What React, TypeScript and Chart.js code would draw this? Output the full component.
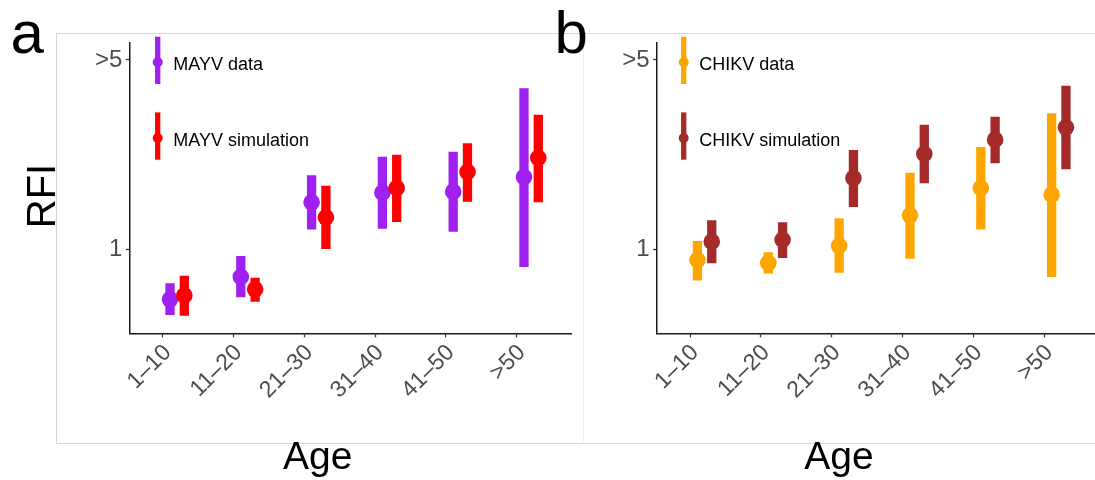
import React, { useEffect, useRef } from "react";
import { Chart, registerables } from "chart.js";

Chart.register(...registerables);

// ---------------- data ----------------
const ageGroups = ["1–10", "11–20", "21–30", "31–40", "41–50", ">50"];

const mayvDataMid = [0.654, 0.792, 1.492, 1.618, 1.632, 1.849];
const mayvDataLow = [0.572, 0.665, 1.185, 1.191, 1.161, 0.86];
const mayvDataHigh = [0.749, 0.945, 1.876, 2.198, 2.293, 3.93];

const mayvSimMid = [0.676, 0.712, 1.313, 1.684, 1.93, 2.174];
const mayvSimLow = [0.569, 0.64, 1.003, 1.261, 1.499, 1.492];
const mayvSimHigh = [0.799, 0.785, 1.718, 2.236, 2.463, 3.141];

const chikvDataMid = [0.913, 0.892, 1.031, 1.335, 1.684, 1.591];
const chikvDataLow = [0.768, 0.815, 0.82, 0.923, 1.185, 0.79];
const chikvDataHigh = [1.073, 0.975, 1.302, 1.918, 2.386, 3.178];

const chikvSimMid = [1.067, 1.085, 1.833, 2.249, 2.539, 2.822];
const chikvSimLow = [0.888, 0.929, 1.433, 1.753, 2.078, 1.974];
const chikvSimHigh = [1.28, 1.258, 2.326, 2.885, 3.088, 4.019];

const yTickValues = [1, 5];
const yTickLabels = ["1", ">5"];

// ---------------- style ----------------
const FONT = "'Liberation Sans', Arial, Helvetica, sans-serif";
const X_MIN = -0.472;
const X_MAX = 5.777;
const Y_MIN = 0.49;
const Y_MAX = 5.79;
const DODGE_DATA = 0.103;
const DODGE_SIM = 0.305;
const BAR_W = 9.3;
const PT_R = 8.3;
const PLOT_TOP = 42.7;
const PLOT_BOTTOM = 333.3;
const CANVAS_H = 480;
const X_AXIS_H = 100;

type Series = {
  label: string;
  color: string;
  mid: number[];
  low: number[];
  high: number[];
  dodge: number;
};

type Panel = {
  canvasLeft: number;
  canvasWidth: number;
  plotLeft: number; // canvas coords
  plotRight: number; // canvas coords
  legendDx: number;
  series: Series[];
};

const panels: Panel[] = [
  {
    canvasLeft: 0,
    canvasWidth: 584,
    plotLeft: 129.3,
    plotRight: 571.7,
    legendDx: 28.4,
    series: [
      { label: "MAYV data", color: "#A020F0", mid: mayvDataMid, low: mayvDataLow, high: mayvDataHigh, dodge: DODGE_DATA },
      { label: "MAYV simulation", color: "#FF0000", mid: mayvSimMid, low: mayvSimLow, high: mayvSimHigh, dodge: DODGE_SIM },
    ],
  },
  {
    canvasLeft: 583,
    canvasWidth: 530,
    plotLeft: 73.7,
    plotRight: 516.4,
    legendDx: 27,
    series: [
      { label: "CHIKV data", color: "#FFA500", mid: chikvDataMid, low: chikvDataLow, high: chikvDataHigh, dodge: DODGE_DATA },
      { label: "CHIKV simulation", color: "#A52A2A", mid: chikvSimMid, low: chikvSimLow, high: chikvSimHigh, dodge: DODGE_SIM },
    ],
  },
];

// legend rows (dot centre y, bar extents relative to dot)
const LEGEND_DOT_Y = [62.3, 138];
const LEGEND_BAR_UP = 25.6;
const LEGEND_BAR_DOWN = 21.7;
const LEGEND_TEXT_DX = 15.6;
const LEGEND_TEXT_DY = 7.7;

function makeLegendPlugin(panel: Panel) {
  return {
    id: "keyLegend",
    afterDraw(chart: any) {
      const ctx = chart.ctx as CanvasRenderingContext2D;
      const kx = chart.chartArea.left + panel.legendDx;
      ctx.save();
      panel.series.forEach((s, i) => {
        const cy = LEGEND_DOT_Y[i];
        ctx.strokeStyle = s.color;
        ctx.lineWidth = 5.3;
        ctx.lineCap = "butt";
        ctx.beginPath();
        ctx.moveTo(kx, cy - LEGEND_BAR_UP);
        ctx.lineTo(kx, cy + LEGEND_BAR_DOWN);
        ctx.stroke();
        ctx.fillStyle = s.color;
        ctx.beginPath();
        ctx.arc(kx, cy, 5, 0, Math.PI * 2);
        ctx.fill();
        ctx.fillStyle = "#000";
        ctx.font = `18px ${FONT}`;
        ctx.textAlign = "left";
        ctx.textBaseline = "alphabetic";
        ctx.fillText(s.label, kx + LEGEND_TEXT_DX, cy + LEGEND_TEXT_DY);
      });
      ctx.restore();
    },
  };
}

function buildConfig(panel: Panel): any {
  const datasets: any[] = [];
  const n = panel.series.length;
  panel.series.forEach((s, si) => {
    const ranges: any[] = [];
    s.low.forEach((lo, i) => {
      const x = i + s.dodge;
      ranges.push({ x, y: lo }, { x, y: s.high[i] }, { x, y: null });
    });
    const pts = s.mid.map((m, i) => ({ x: i + s.dodge, y: m }));
    const base = (n - si) * 2;
    datasets.push({
      label: s.label + " range",
      data: ranges,
      showLine: true,
      spanGaps: false,
      borderColor: s.color,
      borderWidth: BAR_W,
      borderCapStyle: "butt",
      pointRadius: 0,
      pointHoverRadius: 0,
      order: base + 1,
    });
    datasets.push({
      label: s.label,
      data: pts,
      showLine: false,
      backgroundColor: s.color,
      pointBackgroundColor: s.color,
      pointBorderWidth: 0,
      borderWidth: 0,
      pointRadius: PT_R,
      pointHoverRadius: PT_R,
      order: base,
    });
  });

  return {
    type: "scatter",
    data: { datasets },
    options: {
      responsive: false,
      animation: false,
      events: [],
      layout: {
        padding: {
          top: PLOT_TOP,
          left: 0,
          right: panel.canvasWidth - panel.plotRight,
          bottom: CANVAS_H - PLOT_BOTTOM - X_AXIS_H,
        },
      },
      plugins: { legend: { display: false }, tooltip: { enabled: false }, title: { display: false } },
      scales: {
        x: {
          type: "linear",
          min: X_MIN,
          max: X_MAX,
          afterBuildTicks: (sc: any) => {
            sc.ticks = ageGroups.map((_, i) => ({ value: i }));
          },
          afterFit: (sc: any) => {
            sc.height = X_AXIS_H;
          },
          ticks: {
            autoSkip: false,
            minRotation: 45,
            maxRotation: 45,
            padding: 2,
            labelOffset: 5,
            color: "#4D4D4D",
            font: { size: 23, family: FONT },
            callback: (v: number) => ageGroups[Math.round(v)] ?? "",
          },
          grid: {
            display: true,
            drawOnChartArea: false,
            drawTicks: true,
            tickLength: 4,
            tickColor: "#333333",
            tickWidth: 1.3,
          },
          border: { display: true, color: "#1a1a1a", width: 1.5 },
        },
        y: {
          type: "logarithmic",
          min: Y_MIN,
          max: Y_MAX,
          afterBuildTicks: (sc: any) => {
            sc.ticks = yTickValues.map((v) => ({ value: v }));
          },
          afterFit: (sc: any) => {
            sc.width = panel.plotLeft;
          },
          ticks: {
            padding: 3.5,
            color: "#4D4D4D",
            font: { size: 24, family: FONT },
            callback: (v: number) => {
              const idx = yTickValues.indexOf(v);
              return idx >= 0 ? yTickLabels[idx] : "";
            },
          },
          grid: {
            display: true,
            drawOnChartArea: false,
            drawTicks: true,
            tickLength: 3.5,
            tickColor: "#333333",
            tickWidth: 1.3,
          },
          border: { display: true, color: "#1a1a1a", width: 1.5 },
        },
      },
    },
    plugins: [makeLegendPlugin(panel)],
  };
}

function PanelChart({ panel }: { panel: Panel }) {
  const ref = useRef<HTMLCanvasElement | null>(null);
  useEffect(() => {
    if (!ref.current) return;
    const chart = new Chart(ref.current, buildConfig(panel));
    return () => chart.destroy();
  }, [panel]);
  return (
    <canvas
      ref={ref}
      width={panel.canvasWidth}
      height={CANVAS_H}
      style={{
        position: "absolute",
        left: panel.canvasLeft,
        top: 0,
        width: panel.canvasWidth,
        height: CANVAS_H,
      }}
    />
  );
}

const txt = (extra: React.CSSProperties): React.CSSProperties => ({
  position: "absolute",
  fontFamily: FONT,
  color: "#000",
  whiteSpace: "nowrap",
  margin: 0,
  padding: 0,
  ...extra,
});

export default function App() {
  return (
    <div
      style={{
        position: "fixed",
        left: 0,
        top: 0,
        width: 1095,
        height: 480,
        overflow: "hidden",
        background: "#fff",
      }}
    >
      {/* panel frames */}
      <div
        style={{
          position: "absolute",
          left: 56,
          top: 33,
          width: 528,
          height: 411,
          boxSizing: "border-box",
          border: "1px solid #d6d6d6",
        }}
      />
      <div
        style={{
          position: "absolute",
          left: 583,
          top: 33,
          width: 600,
          height: 411,
          boxSizing: "border-box",
          borderTop: "1px solid #dadada",
          borderBottom: "1px solid #dadada",
          borderLeft: "1px solid #f0f0f0",
        }}
      />
      {panels.map((p, i) => (
        <PanelChart key={i} panel={p} />
      ))}
      <div style={txt({ left: 10.6, top: 2.5, fontSize: 60, lineHeight: "60px" })}>a</div>
      <div style={txt({ left: 554.4, top: 2.5, fontSize: 60, lineHeight: "60px" })}>b</div>
      <div
        style={txt({
          left: 41.1 - 50,
          top: 196 - 20,
          width: 100,
          height: 40,
          fontSize: 40,
          lineHeight: "40px",
          textAlign: "center",
          transform: "rotate(-90deg)",
        })}
      >
        RFI
      </div>
      <div style={txt({ left: 317.7 - 100, top: 436.3, width: 200, fontSize: 39, lineHeight: "39px", textAlign: "center" })}>
        Age
      </div>
      <div style={txt({ left: 839 - 100, top: 436.3, width: 200, fontSize: 39, lineHeight: "39px", textAlign: "center" })}>
        Age
      </div>
    </div>
  );
}
